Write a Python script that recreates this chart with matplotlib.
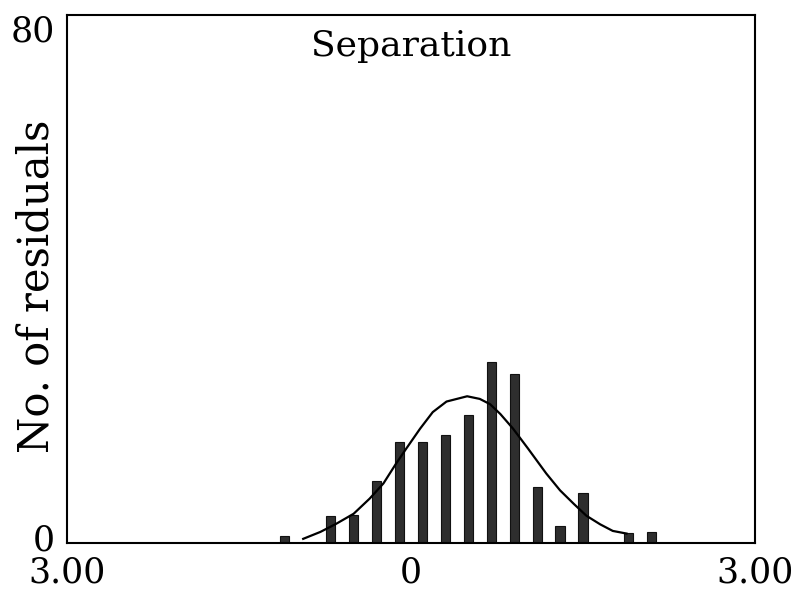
# histogram of residuals with the fitted curve ("Separation")

import matplotlib.pyplot as plt
import matplotlib.transforms as mtransforms

# bar centres and heights
bin_centres = [-1.1, -0.7, -0.5, -0.3, -0.1, 0.1, 0.3, 0.5, 0.7, 0.9, 1.1, 1.3, 1.5, 1.9, 2.1]
counts = [1.0, 4.0, 4.2, 9.3, 15.2, 15.3, 16.3, 19.3, 27.4, 25.5, 8.5, 2.5, 7.6, 1.5, 1.6]

# points of the smooth curve
curve_x = [-0.94, -0.79, -0.65, -0.50, -0.36, -0.24, -0.13, -0.04, 0.08, 0.19, 0.31, 0.49,
           0.60, 0.69, 0.78, 0.89, 1.02, 1.18, 1.30, 1.42, 1.53, 1.65, 1.76, 1.88]
curve_y = [0.6, 1.65, 2.9, 4.4, 6.7, 9.0, 12.0, 14.3, 17.3, 19.8, 21.4, 22.2,
           21.8, 21.0, 19.5, 17.3, 14.3, 10.5, 7.95, 5.9, 4.1, 2.8, 1.8, 1.4]

x_ticks = [-3.0, 0.0, 3.0]
x_labels = ['3.00', '0', '3.00']
y_ticks = [0, 80]
y_labels = ['0', '80']

plt.rcParams['font.family'] = ['DejaVu Serif']

fig = plt.figure(figsize=(7.93, 5.90), dpi=100)
ax = fig.add_axes([0.0845, 0.080, 0.8675, 0.895])

ax.bar(bin_centres, counts, width=0.08, color='#2e2e2e', edgecolor='#111111', linewidth=0.8)
ax.plot(curve_x, curve_y, color='black', linewidth=1.6)

ax.set_xlim(-3, 3)
ax.set_ylim(0, 80)
ax.set_xticks(x_ticks)
ax.set_xticklabels(x_labels, fontsize=25)
ax.set_yticks(y_ticks)
ax.set_yticklabels(y_labels, fontsize=25)
ax.tick_params(length=0)
ax.tick_params(axis='x', pad=9)
ax.tick_params(axis='y', pad=9)

# the y labels sit a little above / below their ticks in the original
lbls = ax.get_yticklabels()
lbls[0].set_transform(lbls[0].get_transform() + mtransforms.ScaledTranslation(0, 0.06, fig.dpi_scale_trans))
lbls[1].set_verticalalignment('top')

for s in ax.spines.values():
    s.set_linewidth(1.5)

ax.set_ylabel('No. of residuals', fontsize=30)
ax.yaxis.set_label_coords(-0.014, 0.485)
ax.text(0.5, 0.941, 'Separation', transform=ax.transAxes, ha='center', va='center', fontsize=26)

fig.savefig('out.png', dpi=100)
